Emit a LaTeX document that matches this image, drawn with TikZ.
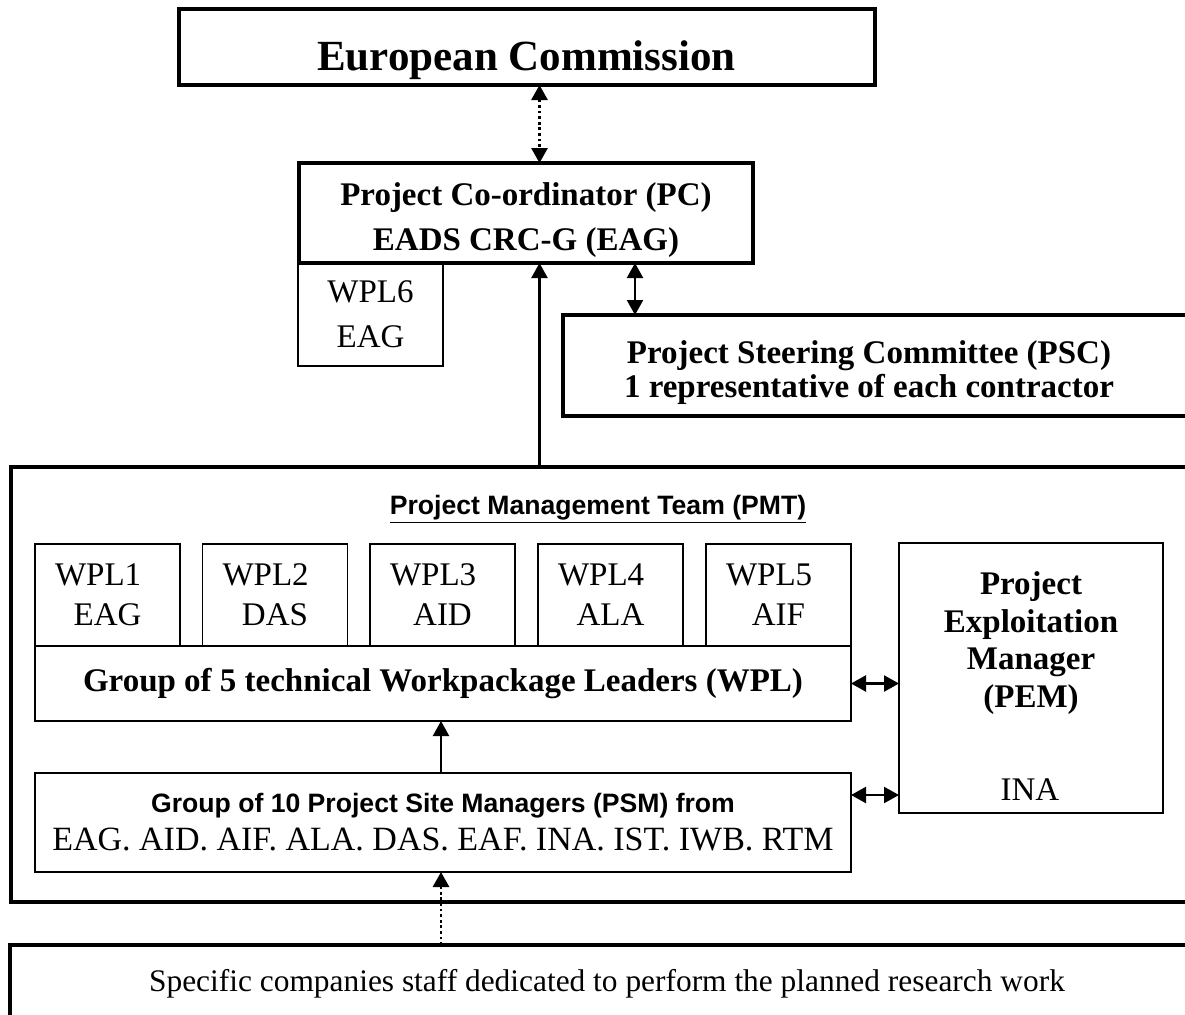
\documentclass[tikz,border=0pt]{standalone}
\usepackage{fontspec}
\setmainfont{Liberation Serif}
\setsansfont{Liberation Sans}
\usetikzlibrary{arrows.meta}

\newcommand{\wpltag}[1]{\makebox[52.5pt][l]{#1}}

\tikzset{
  heavybox/.style={draw, line width=2pt, inner sep=0pt, outer sep=0pt},
  lightbox/.style={draw, line width=0.8pt, inner sep=0pt, outer sep=0pt},
  wplbox/.style={lightbox, minimum height=51pt, text width=72.5pt, align=center,
    font=\fontsize{16.5}{20}\selectfont},
  plain/.style={font=\fontsize{16.5}{19}\selectfont, align=center},
  strong/.style={font=\fontsize{16.5}{19}\selectfont\bfseries, align=center},
  sanstitle/.style={font=\fontsize{13.3}{16}\selectfont\sffamily\bfseries},
  arr/.style={line width=1.1pt, -{Triangle[length=7.5pt,width=8pt]}},
  dblarr/.style={line width=1.1pt, {Triangle[length=7.5pt,width=8pt]}-{Triangle[length=7.5pt,width=8pt]}},
  dots/.style={line width=1.4pt, dash pattern=on 1.4pt off 1.4pt},
}

\begin{document}
\begin{tikzpicture}[x=0.5pt, y=-0.5pt]
	\useasboundingbox (0,0) rectangle (1185,1014);
	\clip (0,0) rectangle (1185,1014);
	\coordinate (ax) at (539.5,0);
	\coordinate (bx) at (635,0);
	\coordinate (cx) at (441,0);
	\coordinate (lowy) at (0,795);

	% commission and co-ordinator
	\node[heavybox, minimum width=348pt, minimum height=38pt] (ec) at (526.5,47) {};
	\node[font=\fontsize{21.5}{24}\selectfont\bfseries, anchor=base] (ectext) at (526.5,70) {European Commission};
	\node[lightbox, plain, font=\fontsize{16.5}{22.5}\selectfont, minimum width=72.5pt, minimum height=51.5pt] (wpl6) at (370.5,314.5) {WPL6\\EAG};
	\node[draw, line width=1.7pt, fill=white, inner sep=0pt, outer sep=0pt,
		minimum width=227pt, minimum height=50pt] (pc) at (526,213) {};
	\node[strong, font=\fontsize{16.5}{22.5}\selectfont\bfseries] (pctext) at (526,220) {Project Co-ordinator (PC)\\EADS CRC-G (EAG)};

	% steering committee
	\node[heavybox, minimum width=323.5pt, minimum height=50.5pt] (psc) at (886.5,365.5) {};
	\node[strong, font=\fontsize{16.5}{17}\selectfont\bfseries] (psctext) at (869,373) {Project Steering Committee (PSC)\\1 representative of each contractor};

	% management team
	\node[heavybox, minimum width=599.5pt, minimum height=217.5pt] (pmt) at (610.5,684.5) {};
	\node[sanstitle, anchor=base] (pmttitle) at (598,514) {\underline{Project Management Team (PMT)}};
	\node[wplbox] (wpl1) at (107.5,595) {\wpltag{WPL1}\\EAG};
	\node[wplbox] (wpl2) at (275,595) {\wpltag{WPL2}\\DAS};
	\node[wplbox] (wpl3) at (442.5,595) {\wpltag{WPL3}\\AID};
	\node[wplbox] (wpl4) at (610.5,595) {\wpltag{WPL4}\\ALA};
	\node[wplbox] (wpl5) at (778.5,595) {\wpltag{WPL5}\\AIF};
	\node[lightbox, strong, minimum width=408pt, minimum height=37.5pt] (wpl) at (443,683.5) {Group of 5 technical Workpackage Leaders (WPL)};
	\node[lightbox, plain, font=\fontsize{17}{19}\selectfont, minimum width=408pt, minimum height=49.5pt] (psm) at (443,822.5)
		{{\fontsize{13.3}{16}\selectfont\sffamily\bfseries Group of 10 Project Site Managers (PSM) from}\\EAG. AID. AIF. ALA. DAS. EAF. INA. IST. IWB. RTM};
	\node[lightbox, minimum width=132pt, minimum height=135pt] (pem) at (1031,678) {};
	\node[strong, font=\fontsize{16.5}{18.75}\selectfont\bfseries] (pemtext) at (1031,643) {Project\\Exploitation\\Manager\\(PEM)};
	\node[plain, anchor=base] (pemsite) at (1030,800) {INA};

	% research staff
	\node[heavybox, minimum width=600pt, minimum height=47.5pt] (staff) at (610,992.5) {};
	\node[plain, font=\fontsize{15.7}{19}\selectfont, anchor=base] (stafftext) at (607,991) {Specific companies staff dedicated to perform the planned research work};

	\path[dblarr, dots] (ec.south -| ax) edge (pc.north -| ax);
	\path[arr]
		(pmt.north -| ax) edge (pc.south -| ax)
		(psm.north -| cx) edge (wpl.south -| cx);
	\path[dblarr]
		(pc.south -| bx) edge (psc.north -| bx)
		(wpl.east) edge (pem.west |- wpl.east)
		(psm.east |- lowy) edge (pem.west |- lowy);
	\path[arr, dots] (staff.north -| cx) edge (psm.south -| cx);
	%\draw[arr] (psm) -- (wpl);
\end{tikzpicture}
\end{document}
